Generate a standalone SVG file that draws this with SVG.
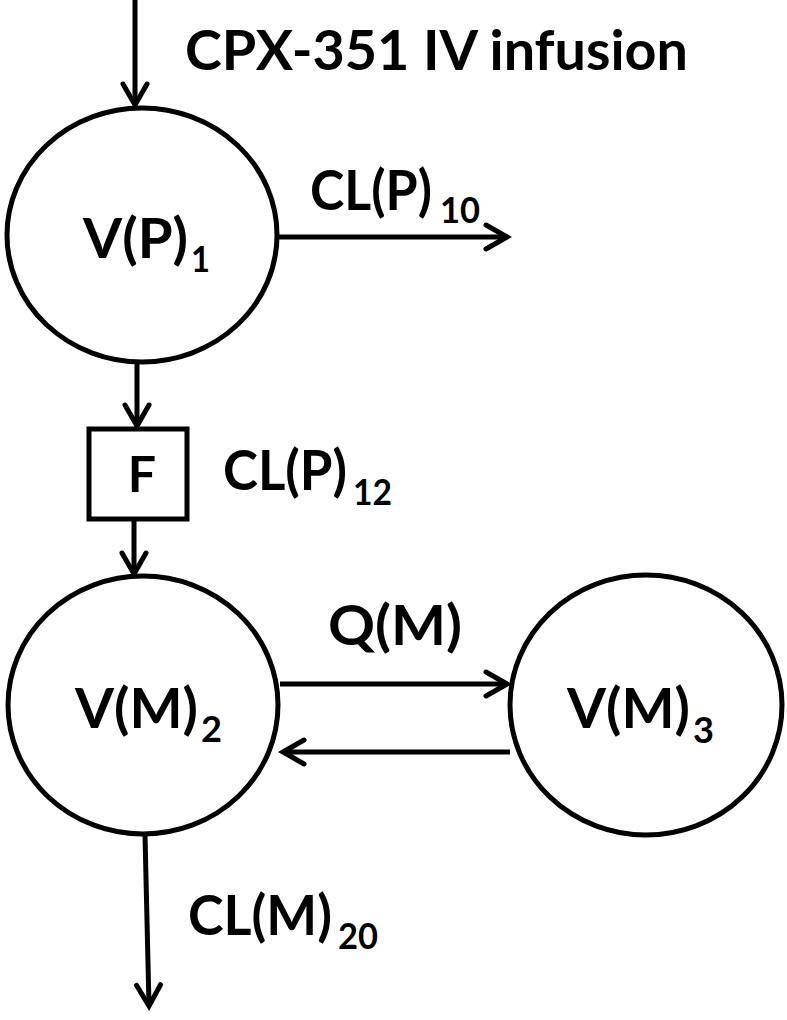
<svg xmlns="http://www.w3.org/2000/svg" width="787" height="1020" viewBox="0 0 787 1020">
<style>
.node{fill:#fff;stroke:#000;stroke-width:5}
.lbl{font-family:Lato,"Open Sans","Liberation Sans",sans-serif;font-weight:bold;font-size:55px;fill:#000}
.sub{font-size:37px}
.conn{stroke:#000;stroke-width:5;fill:none;marker-end:url(#arr)}
</style>
<defs>
<marker id="arr" markerUnits="userSpaceOnUse" viewBox="-30 -20 40 40" markerWidth="40" markerHeight="40" refX="0" refY="0" orient="auto">
<path d="M -21 -12 L 0 0 L -21 12" fill="none" stroke="#000" stroke-width="5" stroke-linecap="round" stroke-linejoin="miter"/>
</marker>
</defs>
<rect width="787" height="1020" fill="#fff"/>
<g id="connectors">
<line class="conn" x1="135" y1="0" x2="135" y2="105"/>
<line class="conn" x1="277" y1="237" x2="507" y2="237"/>
<line class="conn" x1="137" y1="362" x2="137" y2="426"/>
<line class="conn" x1="134" y1="519" x2="134" y2="574"/>
<line class="conn" x1="280" y1="684" x2="507" y2="684"/>
<line class="conn" x1="510" y1="752" x2="283" y2="752"/>
<line class="conn" x1="145" y1="835" x2="149" y2="1006"/>
</g>
<g id="infusion-label"><text class="lbl" x="185" y="70" textLength="503" lengthAdjust="spacingAndGlyphs">CPX-351 IV infusion</text></g>
<g id="cl10-label"><text class="lbl" y="210"><tspan x="310" textLength="122" lengthAdjust="spacingAndGlyphs">CL(P)</tspan><tspan class="sub" x="440" y="223" textLength="40" lengthAdjust="spacingAndGlyphs">10</tspan></text></g>
<g id="cl12-label"><text class="lbl" y="490"><tspan x="223" textLength="124" lengthAdjust="spacingAndGlyphs">CL(P)</tspan><tspan class="sub" x="353" y="505" textLength="39" lengthAdjust="spacingAndGlyphs">12</tspan></text></g>
<g id="qm-label"><text class="lbl" x="328" y="645" textLength="134" lengthAdjust="spacingAndGlyphs">Q(M)</text></g>
<g id="cl20-label"><text class="lbl" y="935"><tspan x="188" textLength="144" lengthAdjust="spacingAndGlyphs">CL(M)</tspan><tspan class="sub" x="338" y="949" textLength="40" lengthAdjust="spacingAndGlyphs">20</tspan></text></g>
<g id="VP1">
<ellipse class="node" cx="142" cy="235" rx="135" ry="127"/>
<text class="lbl" y="258"><tspan x="83" textLength="105" lengthAdjust="spacingAndGlyphs">V(P)</tspan><tspan class="sub" x="191" y="272" textLength="19" lengthAdjust="spacingAndGlyphs">1</tspan></text>
</g>
<g id="F">
<rect class="node" x="89" y="429" width="98" height="90"/>
<text class="lbl" x="142" y="492" text-anchor="middle" style="font-size:50px">F</text>
</g>
<g id="VM2">
<ellipse class="node" cx="143" cy="705" rx="135" ry="129"/>
<text class="lbl" y="728"><tspan x="75" textLength="123" lengthAdjust="spacingAndGlyphs">V(M)</tspan><tspan class="sub" x="201" y="742" textLength="21" lengthAdjust="spacingAndGlyphs">2</tspan></text>
</g>
<g id="VM3">
<ellipse class="node" cx="646" cy="705" rx="136" ry="130"/>
<text class="lbl" y="728"><tspan x="567" textLength="123" lengthAdjust="spacingAndGlyphs">V(M)</tspan><tspan class="sub" x="693" y="743" textLength="21" lengthAdjust="spacingAndGlyphs">3</tspan></text>
</g>
</svg>
